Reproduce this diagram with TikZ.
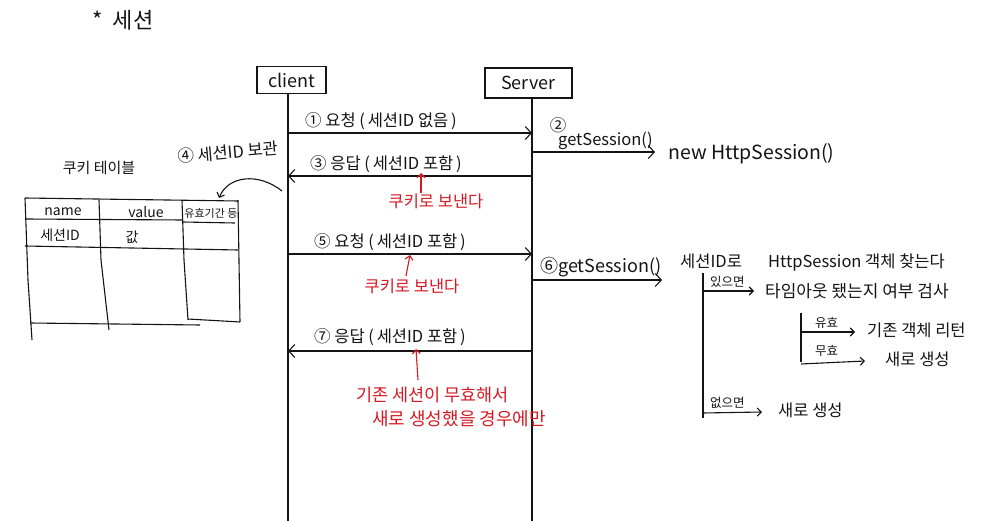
\documentclass[tikz,border=0pt]{standalone}
\usepackage{fontspec}
\setmainfont{Noto Sans CJK KR}
\usetikzlibrary{arrows.meta}
\definecolor{pen}{RGB}{20,20,20}
\definecolor{redpen}{RGB}{215,25,35}
\tikzset{
  lbl/.style={inner sep=0pt, text=pen, font=\fontsize{14}{16}\selectfont},
  msglbl/.style={inner sep=0pt, text=pen, font=\fontsize{16.5}{18}\selectfont},
  small/.style={inner sep=0pt, text=pen, font=\fontsize{12.5}{14}\selectfont},
  tiny/.style={inner sep=0pt, text=pen, font=\fontsize{11}{13}\selectfont},
  redlbl/.style={inner sep=0pt, text=redpen, font=\fontsize{16.5}{18}\selectfont},
  actor/.style={draw=pen, line width=1.1pt, inner sep=0pt, text=pen, font=\fontsize{18}{20}\selectfont},
  life/.style={draw=pen, line width=1.2pt},
  msg/.style={draw=pen, line width=1.1pt, -{Straight Barb[length=6pt,width=13pt,line width=1.1pt]}},
  smallmsg/.style={draw=pen, line width=1.1pt, -{Straight Barb[length=4pt,width=8pt,line width=1.1pt]}},
  redarrow/.style={draw=redpen, line width=1.1pt, -{Straight Barb[length=4pt,width=8pt,line width=1.1pt]}},
  grid/.style={draw=pen, line width=1.1pt},
}
\begin{document}
\begin{tikzpicture}[x=1pt,y=-1pt]
\useasboundingbox[fill=white] (0,0) rectangle (994,521);

% title
\node[inner sep=0pt, text=pen, font=\fontsize{22}{24}\selectfont] (title) at (123,20) {*\;\,세션};

% actors
\node[actor, minimum width=69pt, minimum height=27pt] (client) at (291.5,80) {client};
\node[actor, minimum width=87pt, minimum height=30pt] (server) at (528.5,83) {Server};
\coordinate (ctop) at (288,93.5);
\coordinate (cbot) at (288,521);
\coordinate (stop) at (532,98);
\coordinate (sbot) at (532,521);
\draw[life] (ctop) -- (cbot);
\draw[life] (stop) -- (sbot);

% message 1
\coordinate (m1a) at (288,133); \coordinate (m1b) at (532,133);
\draw[msg] (m1a) -- (m1b);
\node[msglbl, anchor=base west] (m1) at (305,127) {① 요청 (\,세션ID 없음\,)};

% 2 getSession
\coordinate (m2a) at (532,152); \coordinate (m2b) at (655,152);
\draw[msg] (m2a) -- (m2b);
\node[msglbl] (n2) at (558,125) {②};
\node[msglbl, anchor=base west] (gs1) at (558,146) {getSession()};
\node[inner sep=0pt, text=pen, font=\fontsize{19.5}{21}\selectfont, anchor=base west] (newhs) at (668,160) {new HttpSession()};

% message 3
\coordinate (m3a) at (532,176); \coordinate (m3b) at (288,176);
\draw[msg] (m3a) -- (m3b);
\node[msglbl, anchor=base west] (m3) at (310,170) {③ 응답 (\,세션ID 포함\,)};
\node[redlbl] (r1) at (436,201) {쿠키로 보낸다};
\coordinate (r1a) at (421,193); \coordinate (r1b) at (421,173);
\draw[redarrow] (r1a) -- (r1b);

% 4 store + cookie table
\node[msglbl, anchor=base west, rotate=5] (n4) at (178,163) {④ 세션ID 보관};
\node[lbl, font=\fontsize{15}{17}\selectfont] (ctab) at (99,168) {쿠키 테이블};
\coordinate (c4a) at (282,191); \coordinate (c4b) at (219,198);
\draw[smallmsg] (c4a) .. controls (258,172) and (228,176) .. (c4b);

% table
\draw[grid] (25,198) -- (238,201);
\draw[grid] (25,219) -- (183,220) (183,222) -- (235,223);
\draw[grid] (25,246) -- (238,250);
\draw[grid] (30,323) -- (200,325);
\draw[grid] (188,319) -- (240,322);
\draw[grid] (25,198) -- (28,280) -- (32,340);
\draw[grid] (99,200) -- (101,260) -- (109,330);
\draw[grid] (182,200) -- (184,260) -- (188,320);
\draw[grid] (238,200) -- (240,322);
\node[lbl] (hname) at (63,212) {name};
\node[lbl] (hvalue) at (146,212) {value};
\node[tiny] (hexp) at (211,213) {유효기간 등};
\node[lbl] (vname) at (60,235) {세션ID};
\node[lbl] (vval) at (132,237) {값};

% message 5
\coordinate (m5a) at (288,254); \coordinate (m5b) at (532,254);
\draw[msg] (m5a) -- (m5b);
\node[msglbl, anchor=base west] (m5) at (314,248) {⑤ 요청 (\,세션ID 포함\,)};
\node[redlbl] (r2) at (412,286) {쿠키로 보낸다};
\coordinate (r2a) at (406,276); \coordinate (r2b) at (410,255);
\draw[redarrow] (r2a) -- (r2b);

% 6 getSession
\coordinate (m6a) at (532,280); \coordinate (m6b) at (662,280);
\draw[msg] (m6a) -- (m6b);
\node[inner sep=0pt, text=pen, font=\fontsize{18}{20}\selectfont, anchor=base west] (gs2) at (540,273) {⑥getSession()};
\node[msglbl, anchor=base west] (find1) at (680,268) {세션ID로};
\node[inner sep=0pt, text=pen, font=\fontsize{16.5}{18}\selectfont, anchor=base west] (find2) at (768,268) {HttpSession 객체 찾는다};

% branches
\coordinate (b1top) at (703,273); \coordinate (b1bot) at (703,418);
\draw[life, line width=1.1pt] (b1top) -- (b1bot);
\coordinate (b2a) at (703,291); \coordinate (b2b) at (754,291);
\draw[smallmsg] (b2a) -- (b2b);
\node[small, anchor=base west] (has) at (710,287) {있으면};
\node[inner sep=0pt, text=pen, font=\fontsize{17}{19}\selectfont, anchor=base west] (timeout) at (765,298) {타임아웃 됐는지 여부 검사};

\coordinate (b3top) at (801,313); \coordinate (b3bot) at (801,362);
\draw[life, line width=1.1pt] (b3top) -- (b3bot);
\coordinate (b4a) at (801,332); \coordinate (b4b) at (855,332);
\draw[smallmsg] (b4a) -- (b4b);
\node[small, anchor=base west] (valid) at (815,328) {유효};
\node[inner sep=0pt, text=pen, font=\fontsize{16.5}{18}\selectfont, anchor=base west] (ret) at (867,337) {기존 객체 리턴};
\coordinate (b5a) at (801,364); \coordinate (b5b) at (865,361);
\draw[smallmsg] (b5a) -- (b5b);
\node[small, anchor=base west] (invalid) at (815,356) {무효};
\node[inner sep=0pt, text=pen, font=\fontsize{16.5}{18}\selectfont, anchor=base west] (new1) at (885,366) {새로 생성};

\coordinate (b6a) at (703,413); \coordinate (b6b) at (762,412);
\draw[smallmsg] (b6a) -- (b6b);
\node[small, anchor=base west] (none) at (710,408) {없으면};
\node[inner sep=0pt, text=pen, font=\fontsize{16.5}{18}\selectfont, anchor=base west] (new2) at (778,417) {새로 생성};

% message 7
\coordinate (m7a) at (532,351); \coordinate (m7b) at (288,351);
\draw[msg] (m7a) -- (m7b);
\node[msglbl, anchor=base west] (m7) at (314,343) {⑦ 응답 (\,세션ID 포함\,)};
\coordinate (r3a) at (418,380); \coordinate (r3b) at (416,349);
\draw[redarrow] (r3a) -- (r3b);
\node[redlbl, font=\fontsize{17.5}{19}\selectfont, anchor=base west] (r3l1) at (356,402) {기존 세션이 무효해서};
\node[redlbl, font=\fontsize{18}{20}\selectfont, anchor=base west] (r3l2) at (372,425) {새로 생성했을 경우에만};
\end{tikzpicture}
\end{document}
